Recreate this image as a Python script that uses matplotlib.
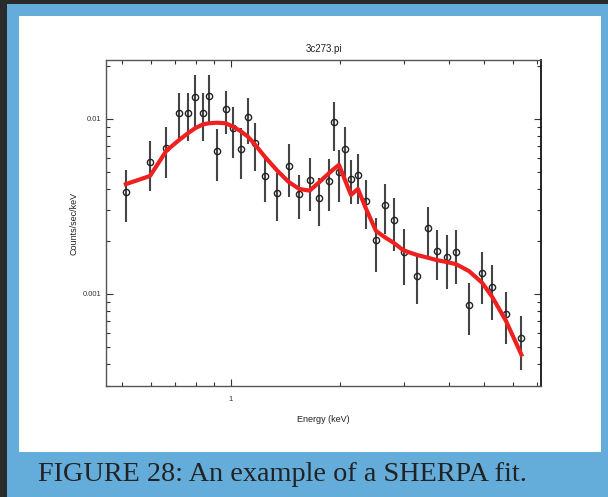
import matplotlib
matplotlib.use("Agg")
import matplotlib.pyplot as plt
import numpy as np
from matplotlib.patches import Rectangle
from matplotlib.ticker import FixedLocator, NullFormatter, LogLocator

plt.rcParams["font.family"] = ["Liberation Sans", "DejaVu Sans"]

# spectrum data (Energy keV, counts/sec/keV, error)
energy = [0.513, 0.598, 0.664, 0.717, 0.761, 0.797, 0.837, 0.869, 0.915, 0.967,
          1.013, 1.064, 1.116, 1.163, 1.239, 1.342, 1.443, 1.544, 1.650, 1.754,
          1.862, 1.925, 1.988, 2.065, 2.145, 2.243, 2.356, 2.515, 2.669, 2.815,
          3.000, 3.265, 3.501, 3.708, 3.951, 4.183, 4.545, 4.936, 5.270, 5.750,
          6.339]
counts = [0.00384, 0.00570, 0.00680, 0.01078, 0.01078, 0.01341, 0.01078, 0.01353, 0.00659, 0.01136,
          0.00885, 0.00671, 0.01023, 0.00726, 0.00472, 0.00376, 0.00539, 0.00373, 0.00448, 0.00352,
          0.00444, 0.00955, 0.00500, 0.00677, 0.00454, 0.00479, 0.00341, 0.00203, 0.00323, 0.00265,
          0.00174, 0.00126, 0.00239, 0.00176, 0.00162, 0.00173, 0.00087, 0.00131, 0.00109, 0.00077,
          0.00056]
errors = [0.00127, 0.00181, 0.00220, 0.00330, 0.00330, 0.00443, 0.00330, 0.00431, 0.00218, 0.00315,
          0.00291, 0.00217, 0.00300, 0.00222, 0.00137, 0.00115, 0.00181, 0.00106, 0.00151, 0.00108,
          0.00147, 0.00300, 0.00165, 0.00223, 0.00129, 0.00152, 0.00107, 0.00069, 0.00103, 0.00089,
          0.00061, 0.00038, 0.00076, 0.00056, 0.00055, 0.00059, 0.00029, 0.00043, 0.00038, 0.00025,
          0.00019]
model = [0.00424, 0.00472, 0.00659, 0.00753, 0.00828, 0.00885, 0.00930, 0.00944, 0.00951, 0.00944,
         0.00904, 0.00851, 0.00789, 0.00718, 0.00610, 0.00507, 0.00437, 0.00398, 0.00389, 0.00435,
         0.00488, 0.00518, 0.00546, 0.00448, 0.00368, 0.00398, 0.00310, 0.00229, 0.00210, 0.00196,
         0.00177, 0.00167, 0.00161, 0.00156, 0.00152, 0.00148, 0.00135, 0.00116, 0.00096, 0.00070,
         0.00045]

fig = plt.figure(figsize=(6.08, 4.97), dpi=100)
fig.patch.set_facecolor("#64acd9")

# dark edge on top and left, white panel
fig.add_artist(Rectangle((0, 0.991), 1, 0.009, transform=fig.transFigure,
                         facecolor="#2b2b2b", edgecolor="none", zorder=0))
fig.add_artist(Rectangle((0, 0), 0.011, 1, transform=fig.transFigure,
                         facecolor="#2b2b2b", edgecolor="none", zorder=0))
fig.add_artist(Rectangle((0.031, 0.0905), 0.9575, 0.8775, transform=fig.transFigure,
                         facecolor="white", edgecolor="none", zorder=0))

ax = fig.add_axes([0.1743, 0.2233, 0.7155, 0.656])
ax.set_xscale("log")
ax.set_yscale("log")

ax.errorbar(energy, counts, yerr=errors, fmt="o", mfc="none", mec="#222222",
            mew=1.0, ms=4.5, ecolor="#444444", elinewidth=1.5, capsize=0, zorder=2)
ax.plot(energy, model, color="#ee2020", lw=3, zorder=3)

ax.set_xlim(0.452, 7.18)
ax.set_ylim(2.98e-4, 0.0217)

ax.xaxis.set_major_locator(FixedLocator([1]))
ax.set_xticklabels(["1"])
ax.xaxis.set_minor_locator(FixedLocator([0.5, 0.6, 0.7, 0.8, 0.9, 2, 3, 4, 5, 6, 7]))
ax.xaxis.set_minor_formatter(NullFormatter())
ax.yaxis.set_major_locator(FixedLocator([0.001, 0.01]))
ax.set_yticklabels(["0.001", "0.01"])
ax.yaxis.set_minor_locator(LogLocator(base=10, subs=np.arange(2, 10)))
ax.yaxis.set_minor_formatter(NullFormatter())

ax.tick_params(which="both", direction="in", top=True, right=True,
               labelsize=5.5, colors="#333333", width=0.8)
ax.tick_params(which="major", length=5)
ax.tick_params(axis="x", which="major", pad=7)
ax.tick_params(axis="y", which="major", pad=3)
ax.tick_params(which="minor", length=3)
for s in ax.spines.values():
    s.set_color("#555555")
    s.set_linewidth(1.0)
ax.spines["right"].set_color("#111111")
ax.spines["right"].set_linewidth(1.3)

ax.set_title("3c273.pi", fontsize=7, color="#222222", pad=6)
ax.set_xlabel("Energy (keV)", fontsize=6.5, color="#222222", labelpad=9)
ax.set_ylabel("Counts/sec/keV", fontsize=6.5, color="#222222", labelpad=3)

fig.text(0.0625, 0.046, "FIGURE 28: An example of a SHERPA fit.",
         family="Liberation Serif", fontsize=20.3, color="#222222", va="center", ha="left")

fig.savefig("out.png", dpi=100, facecolor=fig.get_facecolor())
